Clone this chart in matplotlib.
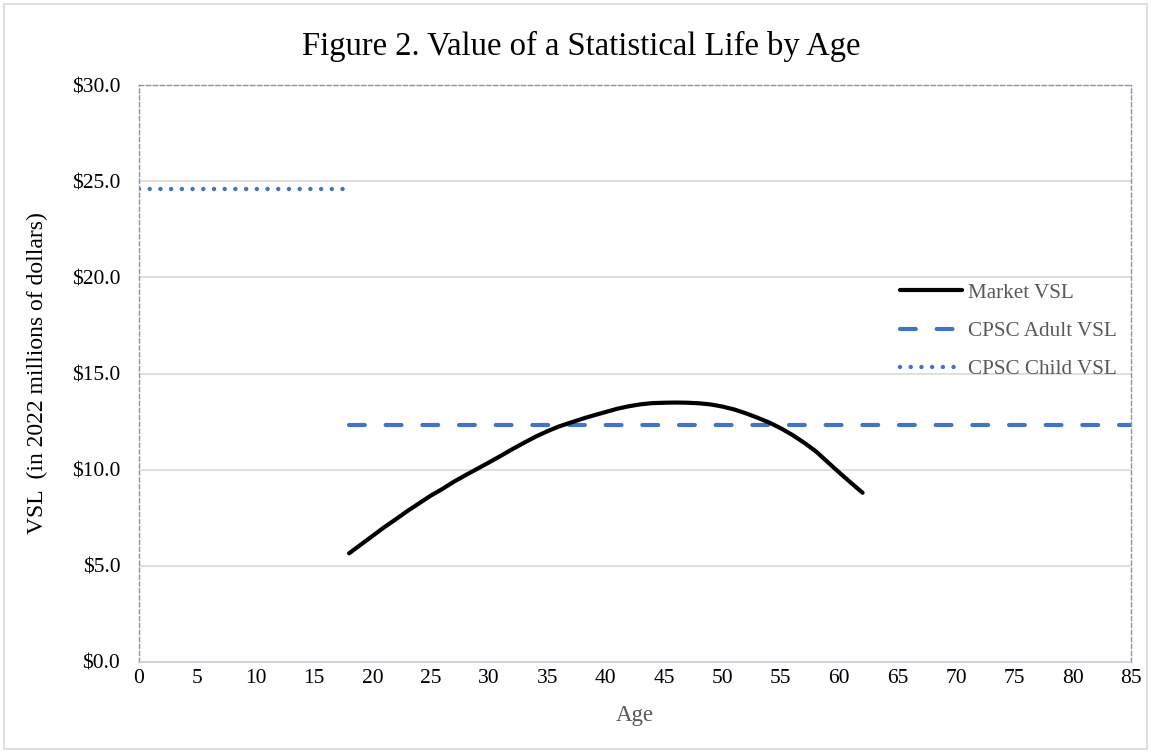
import matplotlib.pyplot as plt
from matplotlib.patches import Rectangle
from matplotlib.ticker import FuncFormatter

plt.rcParams['font.family'] = ['Liberation Serif', 'DejaVu Serif']

# ---- data ----
market_age = list(range(18, 63))
market_vsl = [5.65, 6.1, 6.55, 7.0, 7.42, 7.85, 8.25, 8.65, 9.0, 9.38,
              9.72, 10.05, 10.38, 10.72, 11.07, 11.4, 11.72, 12.0, 12.25, 12.45,
              12.65, 12.83, 13.0, 13.17, 13.3, 13.4, 13.46, 13.48, 13.49, 13.48,
              13.45, 13.39, 13.28, 13.13, 12.93, 12.7, 12.45, 12.15, 11.8, 11.4,
              10.95, 10.4, 9.85, 9.32, 8.8]
adult_age = [18, 85]
adult_vsl = [12.3, 12.3]
child_age = [0, 17.6]
child_vsl = [24.6, 24.6]

x_ticks = list(range(0, 90, 5))
y_ticks = [0, 5, 10, 15, 20, 25, 30]

blue = '#4472C4'
grey_txt = '#595959'

fig = plt.figure(figsize=(11.51, 7.53), dpi=100)
ax = fig.add_axes([139 / 1151, 1 - 662 / 753, 992 / 1151, 577 / 753])

ax.plot(market_age, market_vsl, color='black', lw=3, solid_capstyle='round',
        solid_joinstyle='round', label='Market VSL', zorder=3)
ax.plot(adult_age, adult_vsl, color=blue, lw=3, dashes=(3.8, 5.0),
        dash_capstyle='round', label='CPSC Adult VSL', zorder=2)
ax.plot(child_age, child_vsl, color=blue, lw=3.2, dashes=(0.01, 2.4),
        dash_capstyle='round', label='CPSC Child VSL', zorder=2)

ax.set_xlim(0, 85)
ax.set_ylim(0, 30)
ax.set_xticks(x_ticks)
ax.set_yticks(y_ticks)
ax.yaxis.set_major_formatter(FuncFormatter(lambda v, p: '${:.1f}'.format(v)))
ax.tick_params(length=0, labelsize=15.5, colors='black')
ax.tick_params(axis='y', pad=13.5)
ax.tick_params(axis='x', pad=5)
ax.grid(axis='y', color='#D9D9D9', lw=1.2)
ax.set_axisbelow(True)

for side in ['left', 'top', 'right']:
    ax.spines[side].set_color('#8497B0')
    ax.spines[side].set_linestyle((0, (3, 2)))
    ax.spines[side].set_linewidth(1.0)
ax.spines['bottom'].set_color('#C8CEDA')
ax.spines['bottom'].set_linestyle((0, (3, 1)))
ax.spines['bottom'].set_linewidth(1.2)

ax.set_xlabel('Age', fontsize=16.5, color=grey_txt, labelpad=12)
ax.set_ylabel('VSL  (in 2022 millions of dollars)', fontsize=17, color='black', labelpad=17)
fig.text(581.5 / 1151, 1 - 46 / 753, 'Figure 2. Value of a Statistical Life by Age',
         fontsize=23.5, ha='center', va='center')

leg = ax.legend(loc='upper left', bbox_to_anchor=(0.748, 0.69), frameon=False,
                fontsize=15.2, handlelength=2.95, handletextpad=0.28, labelspacing=0.88)
for t in leg.get_texts():
    t.set_color(grey_txt)

# light frame round the whole chart
fig.patches.append(Rectangle((4 / 1151, 4 / 753), 1 - 8 / 1151, 1 - 8 / 753,
                             transform=fig.transFigure, fill=False,
                             edgecolor='#D9D9D9', lw=1.2))

fig.savefig('out.png', dpi=100)
